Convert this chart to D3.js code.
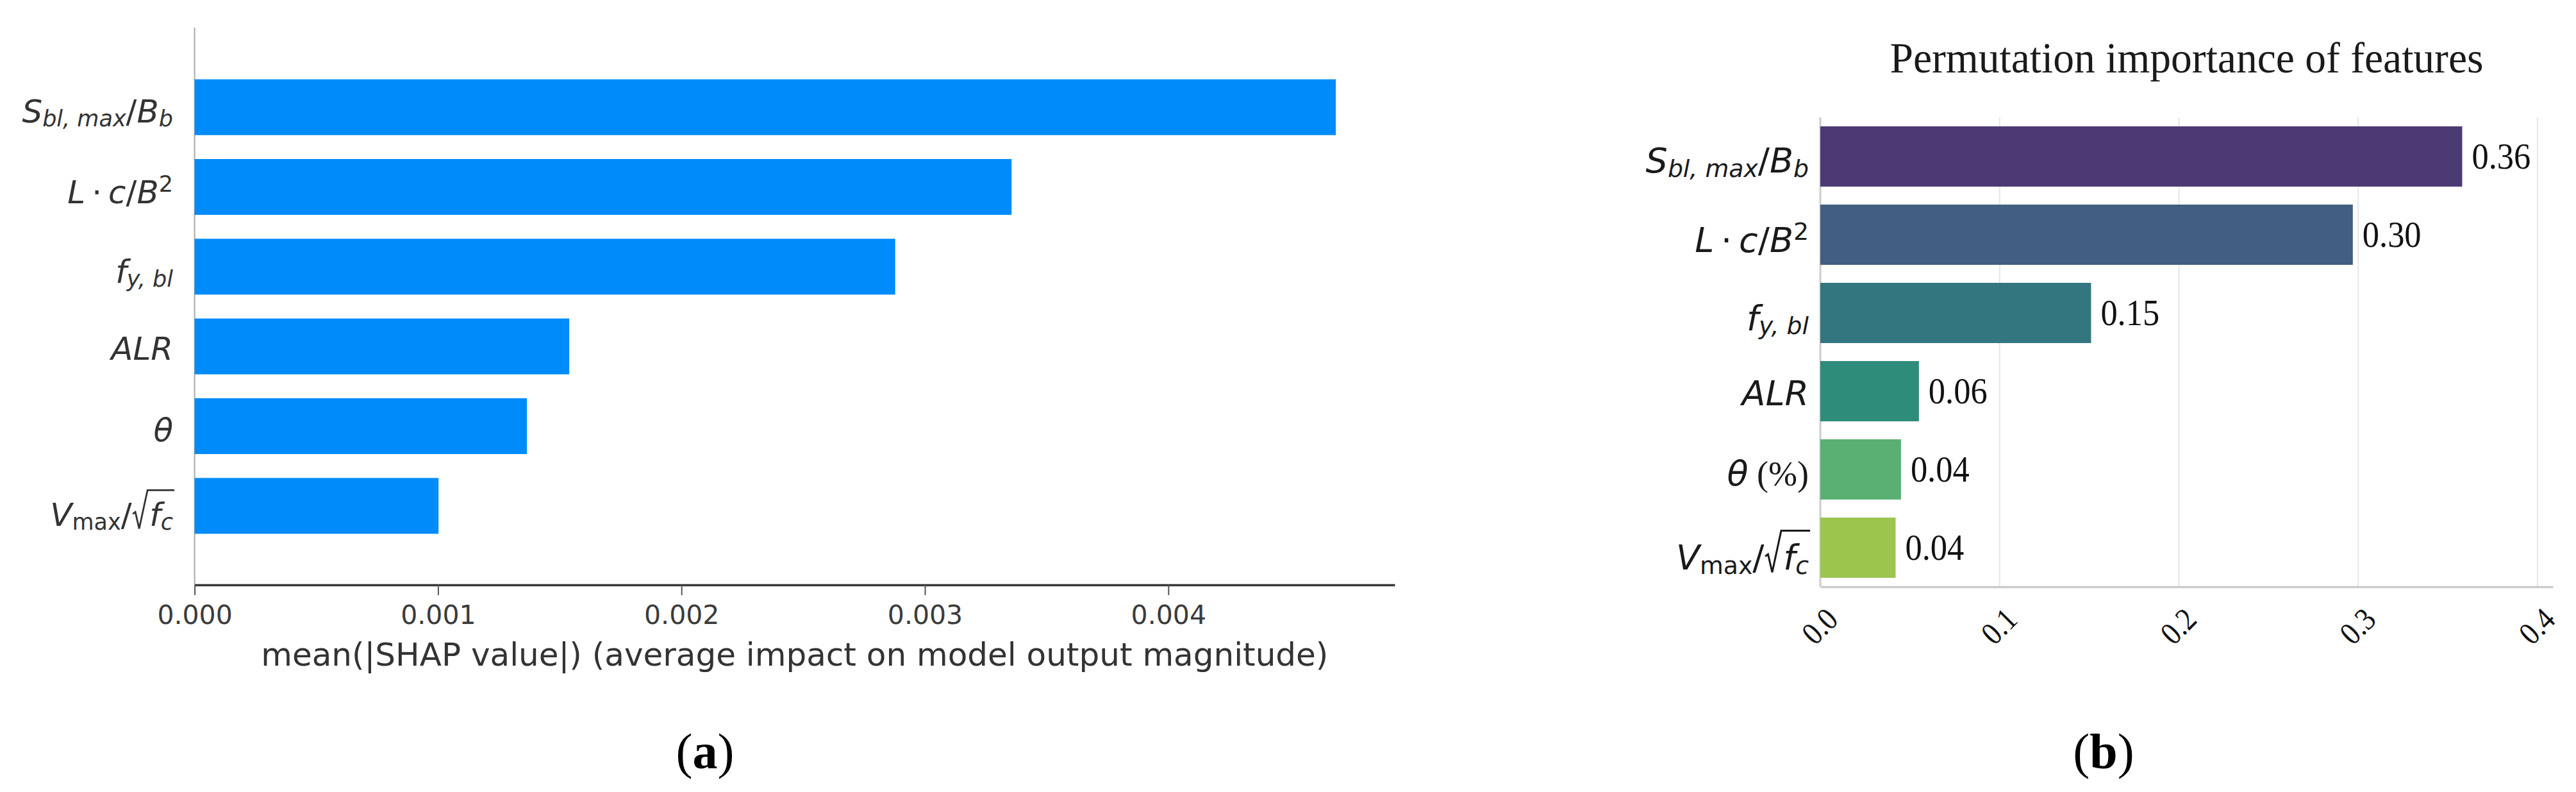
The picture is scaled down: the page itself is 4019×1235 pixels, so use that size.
<!DOCTYPE html>
<html>
<head>
<meta charset="utf-8">
<script src="https://cdn.jsdelivr.net/npm/d3@7"></script>
<style>
  html, body { margin: 0; padding: 0; background: #fff; }
  svg { display: block; }
</style>
</head>
<body>
<div id="chart"></div>
<script>
// ---- data ----
const featuresA = ["S_bl,max/B_b", "L·c/B^2", "f_y,bl", "ALR", "θ", "V_max/√f_c"];
const shapValues = [0.004688, 0.003356, 0.002878, 0.001539, 0.001365, 0.001002];
const shapTicks = [0, 0.001, 0.002, 0.003, 0.004];
const shapLabel = "mean(|SHAP value|) (average impact on model output magnitude)";

const featuresB = ["S_bl,max/B_b", "L·c/B^2", "f_y,bl", "ALR", "θ (%)", "V_max/√f_c"];
const permValues = [0.358, 0.297, 0.151, 0.055, 0.045, 0.042];
const permLabels = ["0.36", "0.30", "0.15", "0.06", "0.04", "0.04"];
const permTicks = [0, 0.1, 0.2, 0.3, 0.4];
const permTitle = "Permutation importance of features";
const permColors = ["#4b3a73", "#425e80", "#33767f", "#2e8c7b", "#5ab073", "#9bc54d"];

const captions = ["a", "b"];

// how each feature name is typeset (mathtext-like)
const labelMarkup = {
	"S_bl,max/B_b": { off: 0.47, parts: [{ t: "S", it: 1 }, { t: "bl, max", it: 1, sub: 1 }, { t: "/" }, { t: "B", it: 1 }, { t: "b", it: 1, sub: 1 }] },
	"L·c/B^2": { off: 0.5, parts: [{ t: "L", it: 1 }, { t: "\u2009·\u2009" }, { t: "c", it: 1 }, { t: "/" }, { t: "B", it: 1 }, { t: "2", sup: 1 }] },
	"f_y,bl": { off: 0.5, parts: [{ t: "f", it: 1 }, { t: "y, bl", it: 1, sub: 1 }] },
	"ALR": { off: 0.41, parts: [{ t: "ALR", it: 1 }] },
	"θ": { off: 0.46, parts: [{ t: "θ", it: 1 }] },
	"θ (%)": { off: 0.46, parts: [{ t: "θ", it: 1 }, { t: " (%)", serif: 1 }] },
	"V_max/√f_c": { off: 0.63, parts: [{ t: "V", it: 1 }, { t: "max", sub: 1 }, { t: "/" }, { t: "f", it: 1, rad: 1, gap: 0.55 }, { t: "c", it: 1, sub: 1, radEnd: 1 }] }
};

const W = 4019, H = 1235;

const svg = d3.select("#chart")
	.append("svg")
	.attr("width", W)
	.attr("height", H);

// the serif text in panel (b) is a bit narrower than Liberation Serif
function condense(sel, k) {
	sel.each(function () {
		const len = this.getComputedTextLength();
		d3.select(this)
			.attr("textLength", len * k)
			.attr("lengthAdjust", "spacingAndGlyphs");
	});
}

function drawLabel(g, name, x, yc, fs, color) {
	const m = labelMarkup[name];
	const b = yc + m.off * fs;
	const text = g.append("text")
		.attr("x", x)
		.attr("y", b)
		.attr("text-anchor", "end")
		.attr("font-family", "DejaVu Sans")
		.attr("font-size", fs)
		.attr("fill", color);
	let shift = 0, idx = 0, radStart = -1, radEnd = -1;
	m.parts.forEach(p => {
		const target = p.sub ? 0.12 * fs : p.sup ? -0.36 * fs : 0;
		const ts = text.append("tspan")
			.text(p.t)
			.attr("dy", target - shift)
			.attr("font-size", (p.sub || p.sup) ? fs * 0.7 : fs)
			.attr("font-style", p.it ? "italic" : "normal");
		if (p.serif) ts.attr("font-family", "Liberation Serif");
		if (p.gap) ts.attr("dx", p.gap * fs);
		shift = target;
		if (p.rad) radStart = idx;
		idx += p.t.length;
		if (p.radEnd) radEnd = idx - 1;
	});
	if (radStart >= 0) {
		// square root sign with overline
		const node = text.node();
		const x0 = node.getStartPositionOfChar(radStart).x;
		const x1 = node.getEndPositionOfChar(radEnd).x;
		const path = d3.path();
		path.moveTo(x0 - 0.52 * fs, b - 0.38 * fs);
		path.lineTo(x0 - 0.44 * fs, b - 0.44 * fs);
		path.lineTo(x0 - 0.32 * fs, b + 0.08 * fs);
		path.lineTo(x0 - 0.06 * fs, b - 1.12 * fs);
		path.lineTo(x1 + 0.04 * fs, b - 1.12 * fs);
		g.append("path")
			.attr("d", path.toString())
			.attr("fill", "none")
			.attr("stroke", color)
			.attr("stroke-width", 0.055 * fs);
	}
}

// ---- (a) SHAP bar plot ----
const gA = svg.append("g");

const xA = d3.scaleLinear()
	.domain([0, 0.00493])
	.range([303.6, 2176]);

const yA = d3.scaleBand()
	.domain(featuresA)
	.range([105, 851])
	.paddingInner(0.3)
	.paddingOuter(0.15);

gA.append("line")
	.attr("x1", xA(0)).attr("x2", xA(0))
	.attr("y1", 43).attr("y2", 912)
	.attr("stroke", "#aaaaaa")
	.attr("stroke-width", 2);

gA.selectAll("rect.bar")
	.data(featuresA)
	.enter()
	.append("rect")
	.attr("class", "bar")
	.attr("x", xA(0))
	.attr("y", d => yA(d))
	.attr("width", (d, i) => xA(shapValues[i]) - xA(0))
	.attr("height", yA.bandwidth())
	.attr("fill", "#008bfb");

featuresA.forEach(f => drawLabel(gA, f, 270, yA(f) + yA.bandwidth() / 2, 50, "#333333"));

const axA = gA.append("g")
	.attr("transform", "translate(0, 912)")
	.call(d3.axisBottom(xA)
		.tickValues(shapTicks)
		.tickFormat(d3.format(".3f"))
		.tickSize(16)
		.tickSizeOuter(0)
		.tickPadding(16));
axA.select(".domain")
	.attr("stroke", "#383838")
	.attr("stroke-width", 3.5);
axA.selectAll(".tick line")
	.attr("stroke", "#555555")
	.attr("stroke-width", 2);
axA.selectAll(".tick text")
	.attr("font-family", "DejaVu Sans")
	.attr("font-size", 41)
	.attr("fill", "#3b3b3b");

gA.append("text")
	.attr("x", (xA.range()[0] + xA.range()[1]) / 2)
	.attr("y", 1038)
	.attr("text-anchor", "middle")
	.attr("font-family", "DejaVu Sans")
	.attr("font-size", 50)
	.attr("fill", "#333333")
	.text(shapLabel);

// ---- (b) permutation importance ----
const gB = svg.append("g");

const xB = d3.scaleLinear()
	.domain([0, 0.4086])
	.range([2840, 3983]);

const yB = d3.scaleBand()
	.domain(featuresB)
	.range([183, 915])
	.paddingInner(0.23)
	.paddingOuter(0.115);

gB.selectAll("line.grid")
	.data(permTicks.slice(1))
	.enter()
	.append("line")
	.attr("class", "grid")
	.attr("x1", d => xB(d)).attr("x2", d => xB(d))
	.attr("y1", 183).attr("y2", 915)
	.attr("stroke", "#e6e6e6")
	.attr("stroke-width", 2);

gB.append("line")
	.attr("x1", xB(0)).attr("x2", xB(0))
	.attr("y1", 183).attr("y2", 915)
	.attr("stroke", "#cccccc")
	.attr("stroke-width", 3);

gB.selectAll("rect.bar")
	.data(featuresB)
	.enter()
	.append("rect")
	.attr("class", "bar")
	.attr("x", xB(0))
	.attr("y", d => yB(d))
	.attr("width", (d, i) => xB(permValues[i]) - xB(0))
	.attr("height", yB.bandwidth())
	.attr("fill", (d, i) => permColors[i]);

const values = gB.selectAll("text.value")
	.data(featuresB)
	.enter()
	.append("text")
	.attr("class", "value")
	.attr("x", (d, i) => xB(permValues[i]) + 15)
	.attr("y", d => yB(d) + yB.bandwidth() / 2 + 19)
	.attr("font-family", "Liberation Serif")
	.attr("font-size", 57)
	.attr("fill", "#111111")
	.text((d, i) => permLabels[i]);
condense(values, 0.92);

featuresB.forEach(f => drawLabel(gB, f, 2822, yB(f) + yB.bandwidth() / 2, 54, "#1a1a1a"));

const axB = gB.append("g")
	.attr("transform", "translate(0, 915)")
	.call(d3.axisBottom(xB)
		.tickValues(permTicks)
		.tickFormat(d3.format(".1f"))
		.tickSize(0)
		.tickSizeOuter(0));
axB.select(".domain")
	.attr("stroke", "#cccccc")
	.attr("stroke-width", 3.5);
const tickB = axB.selectAll(".tick text")
	.attr("y", 0)
	.attr("dy", "0.35em")
	.attr("text-anchor", "middle")
	.attr("transform", "translate(-2, 61) rotate(-45)")
	.attr("font-family", "Liberation Serif")
	.attr("font-size", 50)
	.attr("fill", "#111111");
condense(tickB, 0.88);

const title = gB.append("text")
	.attr("x", (xB.range()[0] + xB.range()[1]) / 2)
	.attr("y", 113)
	.attr("text-anchor", "middle")
	.attr("font-family", "Liberation Serif")
	.attr("font-size", 68)
	.attr("fill", "#1a1a1a")
	.text(permTitle);
title.attr("textLength", 926).attr("lengthAdjust", "spacingAndGlyphs");

// ---- panel captions ----
const capX = [1100, 3282];
captions.forEach((c, i) => {
	const t = svg.append("text")
		.attr("x", capX[i])
		.attr("y", 1198)
		.attr("text-anchor", "middle")
		.attr("font-family", "Liberation Serif")
		.attr("font-size", 78)
		.attr("fill", "#000000");
	t.append("tspan").text("(");
	t.append("tspan").attr("font-weight", "bold").text(c);
	t.append("tspan").text(")");
});
</script>
</body>
</html>
